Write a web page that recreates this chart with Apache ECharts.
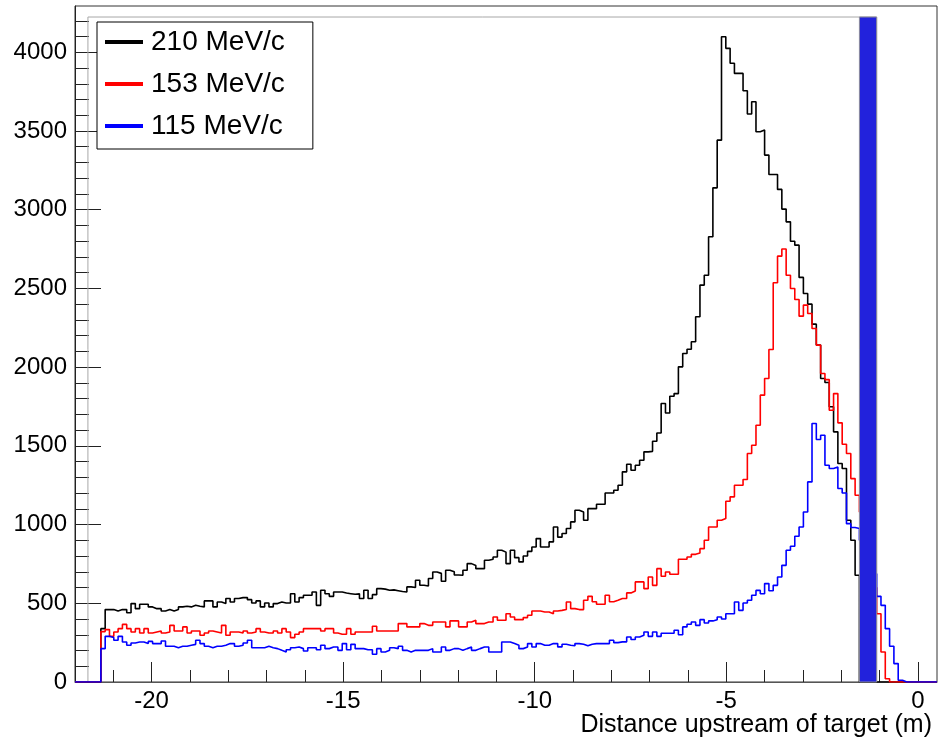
<!DOCTYPE html>
<html><head><meta charset="utf-8">
<script src="https://cdn.jsdelivr.net/npm/echarts@6/dist/echarts.min.js"></script>
<style>html,body{margin:0;padding:0;background:#fff}#c{width:940px;height:744px}</style>
</head><body><div id="c"></div>
<script>
// Histogram definition: 200 bins over the axis range
const xMin = -22, xMax = 0.5, nBins = 200;
const yMax = 4294;
const seriesNames = ['210 MeV/c', '153 MeV/c', '115 MeV/c'];

const counts210 = [
  0,0,0,0,0,0,339,460,460,451,
  460,460,440,498,466,494,494,477,466,466,
  451,460,451,460,477,481,477,487,481,477,
  515,515,477,508,498,530,508,530,536,536,
  523,502,515,477,502,477,498,508,502,502,
  561,508,536,551,551,572,487,583,561,544,
  572,572,565,561,557,560,530,583,530,555,
  593,590,583,585,580,575,572,604,600,646,
  615,610,657,699,690,640,710,700,680,678,
  710,752,740,720,720,773,780,794,837,825,
  752,837,790,763,800,830,858,911,858,858,
  890,985,920,943,975,1017,1091,1080,1027,1101,
  1101,1129,1129,1201,1201,1218,1250,1335,1383,1345,
  1377,1409,1462,1465,1529,1582,1769,1709,1815,1832,
  2002,2087,2114,2161,2320,2521,2584,2828,3139,3442,
  4099,4025,3930,3866,3866,3756,3608,3686,3495,3506,
  3347,3224,3224,3129,3004,2923,2800,2775,2570,2468,
  2400,2273,2140,1928,1902,1748,1589,1388,1356,1027,
  900,678,0,0,0,0,0,0,0,0,
  0,0,0,0,0,0,0,0,0,0
];
const counts153 = [
  0,0,0,0,0,0,320,333,290,318,
  339,366,339,318,339,311,339,311,318,324,
  311,318,360,324,324,350,311,324,324,297,
  311,324,318,311,360,297,318,318,311,324,
  311,318,339,318,311,311,324,311,339,318,
  282,303,318,339,339,339,339,324,339,339,
  311,303,303,339,303,318,318,318,318,354,
  324,324,324,324,324,371,371,350,350,350,
  371,360,360,381,381,381,350,388,388,350,
  350,381,392,371,371,381,381,413,392,392,
  434,413,396,396,409,424,451,451,445,445,
  434,451,455,460,508,466,460,460,519,544,
  510,494,494,551,510,519,530,530,566,578,
  636,636,593,667,614,720,672,699,684,684,
  780,780,794,811,820,847,900,985,985,1027,
  1038,1148,1176,1250,1250,1286,1451,1504,1631,1822,
  1928,2112,2536,2705,2750,2584,2500,2430,2324,2394,
  2341,2245,2140,1960,1921,1726,1832,1646,1510,1451,
  1292,1186,1080,950,800,600,434,191,21,0,
  0,0,0,0,0,0,0,0,0,0
];
const counts115 = [
  0,0,0,0,0,0,212,290,282,265,
  290,254,233,248,254,254,244,258,244,244,
  260,227,227,218,227,227,233,239,265,244,
  227,218,227,227,233,244,244,227,233,248,
  265,218,218,218,227,218,212,201,191,205,
  218,222,212,197,218,218,205,233,212,222,
  222,201,244,205,239,212,212,205,205,176,
  212,191,201,218,212,227,201,191,201,201,
  201,201,212,191,191,222,201,212,212,201,
  212,222,201,212,222,222,191,191,191,254,
  254,244,233,212,222,244,222,244,233,233,
  244,244,223,240,233,230,244,240,230,240,
  244,244,244,244,265,250,255,255,286,270,
  286,297,318,290,318,290,310,310,310,329,
  300,350,367,381,360,396,375,388,396,413,
  400,434,434,508,455,502,519,551,582,561,
  625,580,614,667,741,837,862,926,985,1080,
  1271,1642,1540,1567,1377,1356,1366,1229,1201,1006,
  981,975,900,800,740,688,544,487,339,227,
  117,11,0,0,0,0,0,0,0,0
];

const xMajorTicks = [-20, -15, -10, -5, 0];
const xMinorTicks = [-21,-19,-18,-17,-16,-14,-13,-12,-11,-9,-8,-7,-6,-4,-3,-2,-1];
const yMajorTicks = [0,500,1000,1500,2000,2500,3000,3500,4000];
const yMinorTicks = [100,200,300,400,600,700,800,900,1100,1200,1300,1400,1600,1700,1800,1900,
  2100,2200,2300,2400,2600,2700,2800,2900,3100,3200,3300,3400,3600,3700,3800,3900,4100,4200];

const bandRange = [-1.525, -1.075, 4224];
const boxRange = [-21.6625, -1.075, 4224];

const binW = (xMax - xMin) / nBins;
function toStep(counts) {
  const pts = counts.map((v, k) => [xMin + k * binW, v]);
  pts.push([xMax, counts[counts.length - 1]]);
  return pts;
}

const FONT = 'Liberation Sans, Arial, Helvetica, sans-serif';
const GRID_W = 862, GRID_H = 676;
const chart = echarts.init(document.getElementById('c'), null, {renderer: 'canvas'});

function histSeries(name, counts, color) {
  return {
    name: name, type: 'line', step: 'end', data: toStep(counts),
    showSymbol: false, symbol: 'none', animation: false,
    lineStyle: {color: color, width: 1.6}, itemStyle: {color: color}, z: 3
  };
}
const plain = v => String(v);

chart.setOption({
  animation: false,
  backgroundColor: '#fff',
  grid: {left: 75, top: 6, width: GRID_W, height: GRID_H, show: true, borderColor: '#333', borderWidth: 1,
         outerBoundsMode: 'none', containLabel: false},
  legend: {
    data: seriesNames, orient: 'vertical', left: 97, top: 22,
    backgroundColor: '#fff', borderColor: '#000', borderWidth: 1, borderRadius: 0,
    padding: [6, 28, 9, 8], itemWidth: 38, itemHeight: 4, itemGap: 14, icon: 'rect',
    selectedMode: false,
    textStyle: {fontSize: 28, lineHeight: 28, color: '#000', fontFamily: FONT, padding: [0,0,0,3]}
  },
  xAxis: [{
    type: 'value', min: xMin, max: xMax, position: 'bottom',
    name: 'Distance upstream of target (m)', nameLocation: 'end', nameGap: -5,
    nameMoveOverlap: false,
    nameTextStyle: {fontSize: 25, color: '#000', fontFamily: FONT, align: 'right', verticalAlign: 'top', padding: [31,0,0,0]},
    axisLine: {show: true, onZero: false, lineStyle: {color: '#555', width: 1}},
    axisTick: {show: true, inside: true, length: 20, customValues: xMajorTicks, lineStyle: {color: '#222'}},
    axisLabel: {show: true, customValues: xMajorTicks, formatter: plain, fontSize: 24, color: '#000', fontFamily: FONT, margin: 7},
    splitLine: {show: false}
  }, {
    // minor ticks: placed at the top slot and shifted down onto the bottom edge
    type: 'value', min: xMin, max: xMax, position: 'top', offset: -GRID_H, gridIndex: 0,
    axisLine: {show: false, onZero: false},
    axisTick: {show: true, inside: false, length: 12, customValues: xMinorTicks, lineStyle: {color: '#222'}},
    axisLabel: {show: false}, splitLine: {show: false}
  }],
  yAxis: [{
    type: 'value', min: 0, max: yMax, position: 'left',
    axisLine: {show: true, onZero: false, lineStyle: {color: '#222', width: 1}},
    axisTick: {show: true, inside: true, length: 26, customValues: yMajorTicks, lineStyle: {color: '#222'}},
    axisLabel: {show: true, customValues: yMajorTicks, formatter: plain, fontSize: 24, color: '#000', fontFamily: FONT, margin: 8},
    splitLine: {show: false}
  }, {
    // minor ticks: placed at the right slot and shifted onto the left edge
    type: 'value', min: 0, max: yMax, position: 'right', offset: -GRID_W, gridIndex: 0,
    axisLine: {show: false, onZero: false},
    axisTick: {show: true, inside: false, length: 14, customValues: yMinorTicks, lineStyle: {color: '#222'}},
    axisLabel: {show: false}, splitLine: {show: false}
  }],
  series: [
    {
      type: 'custom', name: 'frame', data: [boxRange], encode: {x: [0, 1], y: 2}, z: 1, silent: true,
      renderItem: function (params, api) {
        const a = api.coord([api.value(0), 0]);
        const b = api.coord([api.value(1), api.value(2)]);
        return {type: 'polyline', shape: {points: [[a[0], a[1]], [a[0], b[1]], [b[0], b[1]], [b[0], a[1]]]},
                style: {fill: 'none', stroke: '#a8a8a8', lineWidth: 1}};
      }
    },
    histSeries(seriesNames[0], counts210, '#000000'),
    histSeries(seriesNames[1], counts153, '#ff0000'),
    histSeries(seriesNames[2], counts115, '#0000ff'),
    {
      type: 'custom', name: 'band', data: [bandRange], encode: {x: [0, 1], y: 2}, z: 10, silent: true,
      renderItem: function (params, api) {
        const a = api.coord([api.value(0), 0]);
        const b = api.coord([api.value(1), api.value(2)]);
        return {type: 'rect', shape: {x: a[0], y: b[1], width: b[0] - a[0], height: a[1] - b[1]},
                style: {fill: '#2222dc', stroke: '#8a8a9a', lineWidth: 1}};
      }
    }
  ]
});
</script>
</body></html>
